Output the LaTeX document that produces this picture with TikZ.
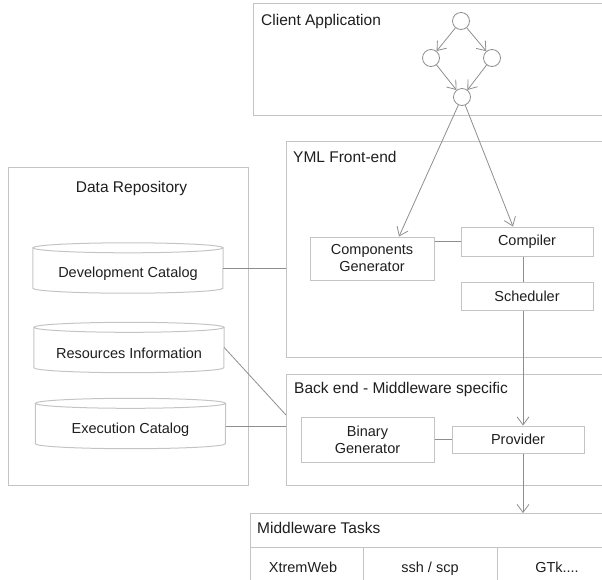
\documentclass[tikz,border=0pt]{standalone}
\usepackage{fontspec}
\setmainfont{Liberation Sans}
\usetikzlibrary{arrows.meta,calc}
\definecolor{boxc}{HTML}{C4C4C4}
\definecolor{linec}{HTML}{8E8E8E}
\definecolor{txtc}{HTML}{1E1E1E}
\tikzset{
 frame/.style={draw=boxc, line width=1pt},
 title/.style={anchor=base west, text=txtc, font=\fontsize{15.5}{18}\selectfont, inner sep=0pt},
 comp/.style={draw=boxc, line width=1pt, text=txtc, font=\fontsize{14.5}{17}\selectfont, align=center, inner sep=0pt},
 conn/.style={draw=linec, line width=0.8pt},
 arr/.style={conn, -{Straight Barb[length=8pt,width=12pt]}},
 state/.style={circle, draw=linec, minimum size=17pt, inner sep=0pt, line width=0.8pt},
 cylbox/.style={rectangle, minimum width=190pt, minimum height=50pt, inner sep=0pt},
 cyltext/.style={text=txtc, font=\fontsize{14.5}{17}\selectfont, inner sep=0pt},
 cell/.style={anchor=base, text=txtc, font=\fontsize{14.5}{17}\selectfont, inner sep=0pt}
}
\newcommand\dbcylinder[1]{%
 \draw[frame] ($(#1.north)+(0,5)$) ellipse [x radius=95pt, y radius=5pt];
 \draw[frame] ($(#1.north west)+(0,5)$) -- ($(#1.south west)+(0,-5)$) arc[start angle=180,end angle=360,x radius=95pt,y radius=5pt] -- ($(#1.north east)+(0,5)$);
}
\begin{document}
\begin{tikzpicture}[x=1pt,y=-1pt]
\useasboundingbox (0,0) rectangle (602,579);
% Client application
\draw[frame] (604,3) -- (253,3) -- (253,115) -- (604,115);
\node[title] (tclient) at (261,25) {Client Application};
\node[state] (s1) at (461,21) {};
\node[state] (s2) at (431,58) {};
\node[state] (s3) at (492,58) {};
\node[state] (s4) at (462,97) {};
\draw[arr] (s1) -- (s2);
\draw[arr] (s1) -- (s3);
\draw[arr] (s2) -- (s4);
\draw[arr] (s3) -- (s4);
% YML front-end
\draw[frame] (604,141) -- (286,141) -- (286,357) -- (604,357);
\node[title] (tyml) at (293,162) {YML Front-end};
\node[comp, minimum width=124pt, minimum height=43pt] (cg) at (372,258.5) {Components\\Generator};
\node[comp, minimum width=132pt, minimum height=29pt] (compiler) at (527,241.5) {Compiler};
\node[comp, minimum width=132pt, minimum height=28pt] (scheduler) at (527,296) {Scheduler};
% Back end
\draw[frame] (604,374) -- (286,374) -- (286,485) -- (604,485);
\node[title] (tback) at (294,393.5) {Back end - Middleware specific};
\node[comp, minimum width=133pt, minimum height=45pt] (bg) at (367.5,439.5) {Binary\\Generator};
\node[comp, minimum width=132pt, minimum height=27pt] (provider) at (518,439.5) {Provider};
% Data repository
\draw[frame] (8,167) rectangle (248,485);
\node[anchor=base, text=txtc, font=\fontsize{15.5}{18}\selectfont, inner sep=0pt] (tdata) at (131.5,192.5) {Data Repository};
\node[cylbox] (dev) at (128,268) {};
\node[cylbox] (res) at (129,347.5) {};
\node[cylbox] (exe) at (130.5,423.5) {};
\dbcylinder{dev}
\dbcylinder{res}
\dbcylinder{exe}
\node[cyltext] (devt) at ($(dev)+(0,6)$) {Development Catalog};
\node[cyltext] (rest) at ($(res)+(0,6)$) {Resources Information};
\node[cyltext] (exet) at ($(exe)+(0,6)$) {Execution Catalog};
% Middleware tasks
\draw[frame] (604,513) -- (250,513) -- (250,581);
\draw[frame] (250,547) -- (604,547);
\draw[frame] (363,547) -- (363,581);
\draw[frame] (497,547) -- (497,581);
\node[title] (ttasks) at (257,533.5) {Middleware Tasks};
\node[cell] (xw) at (303,572) {XtremWeb};
\node[cell] (ssh) at (430,572) {ssh / scp};
\node[cell] (gtk) at (557,572) {GTk....};
% connectors
\coordinate (cgin) at ($(cg.north)+(27,0)$);
\coordinate (compin) at ($(compiler.north)+(-14,0)$);
\draw[arr] (s4) -- (cgin);
\draw[arr] (s4) -- (compin);
\draw[conn] (compiler.west) -- (compiler.west -| cg.east);
\coordinate (vx) at (523,0);
\coordinate (tasktop) at (523,513);
\draw[conn] (compiler.south -| vx) -- (scheduler.north -| vx);
\draw[arr] (scheduler.south -| vx) -- (provider.north -| vx);
\draw[arr] (provider.south -| vx) -- (tasktop);
\draw[conn] (bg.east) -- (provider.west);
\coordinate (ymlleft) at (286,268);
\coordinate (backdiag) at (286,415);
\coordinate (backleft) at (286,426);
\draw[conn] (dev.east) -- (ymlleft);
\draw[conn] (res.east) -- (backdiag);
\draw[conn] (exe.east |- backleft) -- (backleft);
\end{tikzpicture}
\end{document}
